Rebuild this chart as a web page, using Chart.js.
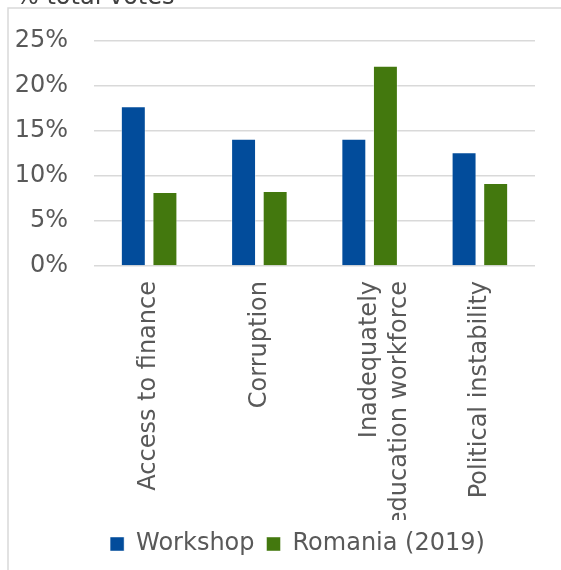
<!DOCTYPE html>
<html>
<head>
<meta charset="utf-8">
<script src="https://cdn.jsdelivr.net/npm/chart.js@4"></script>
<style>
  html, body { margin:0; padding:0; background:#fff; }
  #wrap { position:relative; width:561px; height:570px; overflow:hidden; }
</style>
</head>
<body>
<div id="wrap"><canvas id="c" width="561" height="570"></canvas></div>
<script>
const categories = ["Access to finance", "Corruption", ["Inadequately", "education workforce"], "Political instability"];
const workshopValues = [17.7, 14.1, 14.1, 12.6];
const romaniaValues = [8.2, 8.3, 22.2, 9.2];
const seriesNames = ["Workshop", "Romania (2019)"];
const yTicks = [0, 5, 10, 15, 20, 25];
const titleText = "% total votes";

const FONT = "'DejaVu Sans', Verdana, sans-serif";
const TXT = "#595959";
const LEGEND_SHIFT = 30;

const framePlugin = {
  id: 'frame',
  afterLayout(chart) {
    if (chart.legend) {
      chart.legend.left += LEGEND_SHIFT;
      chart.legend.right += LEGEND_SHIFT;
    }
  },
  beforeDraw(chart) {
    const ctx = chart.ctx;
    ctx.save();
    ctx.strokeStyle = '#d9d9d9';
    ctx.lineWidth = 1.5;
    ctx.beginPath();
    ctx.moveTo(8, 600);
    ctx.lineTo(8, 8);
    ctx.lineTo(600, 8);
    ctx.stroke();
    ctx.fillStyle = '#404040';
    ctx.font = "24px " + FONT;
    ctx.textBaseline = 'alphabetic';
    ctx.textAlign = 'left';
    ctx.fillText(titleText, 16, 4);
    ctx.restore();
  }
};

new Chart(document.getElementById('c'), {
  type: 'bar',
  data: {
    labels: categories,
    datasets: [
      { label: seriesNames[0], data: workshopValues, backgroundColor: '#024C9B', borderColor: 'rgba(255,255,255,0.45)', borderWidth: 1 },
      { label: seriesNames[1], data: romaniaValues, backgroundColor: '#43780E', borderColor: 'rgba(255,255,255,0.45)', borderWidth: 1 }
    ]
  },
  options: {
    responsive: false,
    animation: false,
    devicePixelRatio: 1,
    datasets: { bar: { barPercentage: 0.79, categoryPercentage: 0.573 } },
    layout: { padding: { left: 0, right: 26, top: 39, bottom: 4 } },
    plugins: {
      legend: {
        position: 'bottom',
        labels: {
          font: { family: FONT, size: 24 },
          color: TXT,
          boxWidth: 14,
          boxHeight: 14,
          padding: 12
        }
      },
      tooltip: { enabled: false },
      title: { display: false }
    },
    scales: {
      x: {
        grid: { display: false, drawTicks: false },
        border: { display: false },
        ticks: {
          color: TXT,
          font: { family: FONT, size: 24, lineHeight: 1.25 },
          minRotation: 90,
          maxRotation: 90,
          padding: 15,
          autoSkip: false
        },
        afterFit(scale) { scale.height = 254; }
      },
      y: {
        min: 0,
        max: 25,
        afterBuildTicks(scale) { scale.ticks = yTicks.map(v => ({ value: v })); },
        grid: { color: '#d9d9d9', lineWidth: 1.5, drawTicks: false },
        border: { display: false },
        ticks: {
          color: TXT,
          font: { family: FONT, size: 24 },
          padding: 26,
          callback: v => v + '%'
        },
        afterFit(scale) { scale.width = 94; }
      }
    }
  },
  plugins: [framePlugin]
});
</script>
</body>
</html>
